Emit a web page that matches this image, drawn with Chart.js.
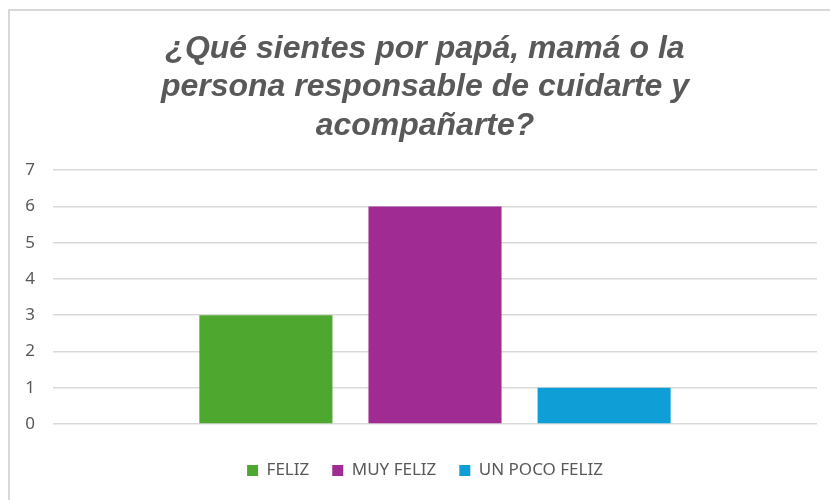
<!DOCTYPE html>
<html>
<head>
<meta charset="utf-8">
<script src="https://cdn.jsdelivr.net/npm/chart.js"></script>
<style>
  html, body { margin: 0; padding: 0; background: #fff; }
  #wrap { position: relative; width: 830px; height: 500px; overflow: hidden; }
  #frame { position: absolute; left: 8px; top: 9px; width: 900px; height: 600px;
           border-left: 2px solid #d9d9d9; border-top: 2px solid #d9d9d9; }
  canvas { position: absolute; left: 0; top: 0; }
</style>
</head>
<body>
<div id="wrap">
  <div id="frame"></div>
  <canvas id="chart" width="830" height="500"></canvas>
</div>
<script>
var titleLines = ['¿Qué sientes por papá, mamá o la', 'persona responsable de cuidarte y', 'acompañarte?'];
var categories = [''];
var seriesNames = ['FELIZ', 'MUY FELIZ', 'UN POCO FELIZ'];
var seriesValues = [[3], [6], [1]];
var seriesColors = ['#4EA72E', '#A02B93', '#0F9ED5'];

var datasets = seriesNames.map(function (name, i) {
    return {
        label: name,
        data: seriesValues[i],
        backgroundColor: seriesColors[i],
        borderWidth: 0,
        categoryPercentage: 0.664,
        barPercentage: 0.787
    };
});

// empty right axis (y2) just eats 13px so title + legend stay centred at ~425
var ctx = document.getElementById('chart');
var myChart = new Chart(ctx, {
    type: 'bar',
    data: { labels: categories, datasets: datasets },
    options: {
        responsive: false,
        animation: false,
        layout: { padding: { left: 20, right: 0, top: 30, bottom: 11 } },
        plugins: {
            title: {
                display: true,
                text: titleLines,
                color: '#595959',
                font: { family: '"Liberation Sans", Arial', size: 32, weight: 'bold', style: 'italic', lineHeight: 1.2 },
                padding: { top: 0, bottom: 25 }
            },
            legend: {
                position: 'bottom',
                labels: {
                    color: '#595959',
                    font: { family: '"Noto Sans", sans-serif', size: 17 },
                    boxWidth: 11,
                    boxHeight: 11,
                    padding: 23
                }
            },
            tooltip: { enabled: false }
        },
        scales: {
            x: {
                grid: { display: false },
                border: { display: false },
                ticks: { display: false },
                afterFit: function (scale) { scale.height = 15; }
            },
            y: {
                min: 0,
                max: 7,
                ticks: {
                    stepSize: 1,
                    color: '#595959',
                    padding: 18,
                    font: { family: '"Noto Sans", sans-serif', size: 17 }
                },
                grid: { color: '#d9d9d9', lineWidth: 1.5, drawTicks: false },
                border: { display: false },
                afterFit: function (scale) { scale.width = 33; }
            },
            y2: {
                position: 'right',
                display: true,
                grid: { display: false },
                border: { display: false },
                ticks: { display: false },
                afterFit: function (scale) { scale.width = 13; }
            }
        }
    }
});
</script>
</body>
</html>
